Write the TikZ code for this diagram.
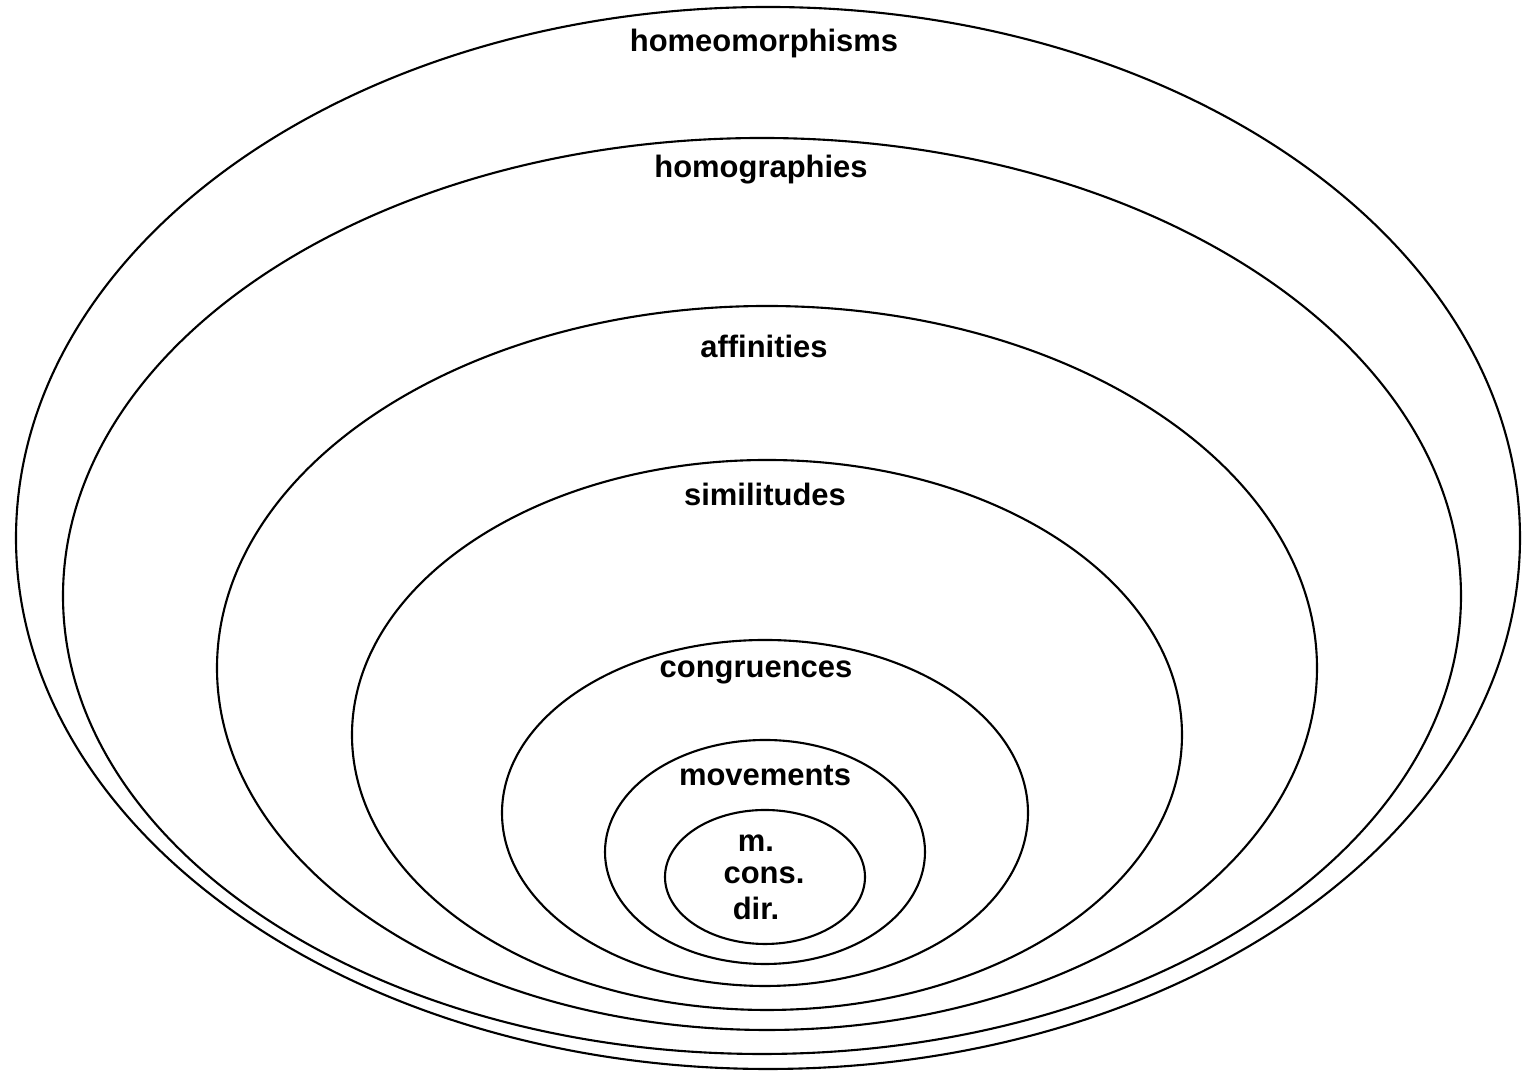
\documentclass[tikz,border=0pt]{standalone}
\usepackage{fontspec}
\setmainfont{Liberation Sans}
\usepackage{tikz}
\tikzset{fig/.style={
    line width=0.6pt},
  lbl/.style={
    font=\fontsize{8.8}{10}\selectfont\bfseries, inner sep=0pt}}

\begin{document}
\begin{tikzpicture}[x=0.01cm,y=-0.01cm]
\useasboundingbox (0,0) rectangle (1523,1071);
  % ellipses
\foreach \cx/\cy/\rx/\ry in {768/538/752/531, 762/596/699/458, 767/668/550/362,
  767/735/415/275, 765/813/263/173, 765/852/160/112, 765/877/100/67}
{
  \draw[fig] (\cx,\cy) ellipse [x radius=\rx, y radius=\ry];
}

  % labels
\node[lbl] (homeo) at (764,44) {homeomorphisms};
\node[lbl] (homog) at (761,170) {homographies};
\node[lbl] (aff) at (764,346) {affinities};
\node[lbl] (sim) at (765,494) {similitudes};
\node[lbl] (cong) at (756,672) {congruences};
\node[lbl] (mov) at (765,776) {movements};
\node[lbl] (m) at (756,843) {m.};
\node[lbl] (cons) at (764,875) {cons.};
\node[lbl] (dir) at (756,908) {dir.};
\end{tikzpicture}
\end{document}
